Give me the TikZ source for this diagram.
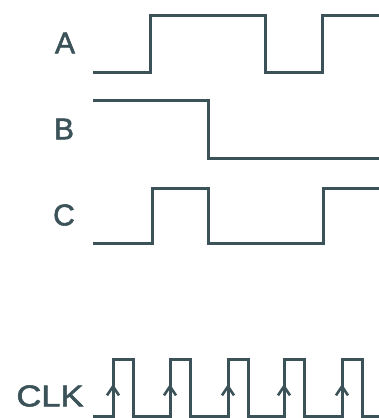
\documentclass[tikz,border=0pt]{standalone}
\usepackage{fontspec}
\newfontfamily\labelfont[FakeBold=1.8]{Liberation Sans}
\usetikzlibrary{arrows.meta,positioning}
\definecolor{wavecol}{RGB}{58,82,88}

\begin{document}
\begin{tikzpicture}[x=1pt,y=-1pt,
  wave/.style={draw=wavecol, line width=3pt, line join=miter},
  siglabel/.style={text=wavecol, font=\labelfont\fontsize{30}{30}\selectfont, inner sep=0pt},
  clkedge/.style={draw=wavecol, line width=3pt, -{Straight Barb[length=9pt,width=12pt,line width=2.6pt]}}]
\useasboundingbox (0,0) rectangle (378,418);

\node (lab_a) at (65,43) [siglabel] {A};
\node (lab_b) at (64,129) [siglabel] {B};
\node (lab_c) at (64,215) [siglabel] {C};
\node (lab_clk) at (50,396) [siglabel, xscale=1.15] {CLK};

% signal A
\draw [wave] (93,72) -- (150,72) -- (150,15) -- (265,15) -- (265,72) -- (322,72) -- (322,15) -- (380,15);
% signal B
\draw [wave] (93,100) -- (208,100) -- (208,158) -- (380,158);
% signal C
\draw [wave] (93,243) -- (152,243) -- (152,188) -- (208,188) -- (208,243) -- (323,243) -- (323,188) -- (380,188);

% clock
\draw [wave] (93,416) foreach \x in {113,170,228,284,342} {
  -- (\x,416) -- (\x,359) -- (\x+20,359) -- (\x+20,416)} -- (380,416);
\foreach \x in {113,170,228,284,342}
  \draw [clkedge] (\x,404) -- (\x,384);

\end{tikzpicture}
\end{document}
